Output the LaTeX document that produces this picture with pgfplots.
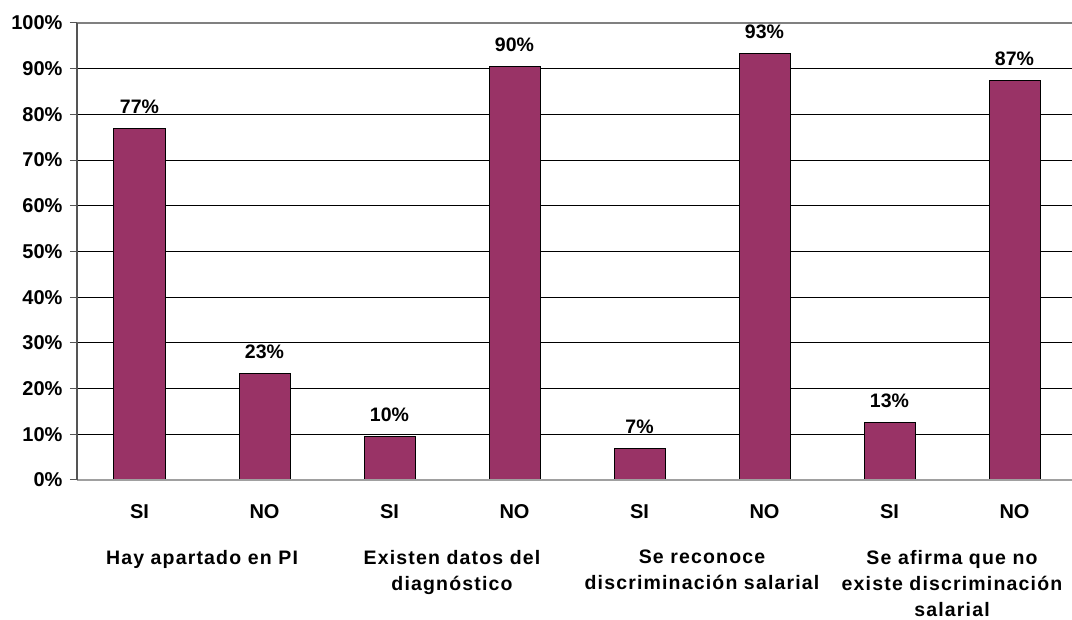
\documentclass[border=0pt]{standalone}
\usepackage{pgfplots}
\pgfplotsset{compat=1.18}
\usepackage{fontspec}
\setmainfont{Liberation Sans}
\newfontfamily\grpfont{Liberation Sans}[LetterSpace=6,Ligatures=NoCommon]
\definecolor{barplum}{HTML}{993366}
\definecolor{leftax}{HTML}{555555}
\definecolor{botax}{HTML}{A0A0A0}
\begin{document}
\begin{tikzpicture}
\begin{axis}[
  at={(77pt,140pt)}, anchor=south west,
  width=995pt, height=457pt, scale only axis,
  xmin=-0.5, xmax=7.46, ymin=0, ymax=100,
  axis line style={draw=none},
  ytick={0,10,...,100},
  yticklabels={0\%,10\%,20\%,30\%,40\%,50\%,60\%,70\%,80\%,90\%,100\%},
  ymajorgrids, major grid style={black, line width=0.9pt},
  xtick={0,...,7},
  xticklabels={SI,NO,SI,NO,SI,NO,SI,NO},
  tick label style={font=\bfseries\fontsize{20}{22}\selectfont},
  x tick style={draw=none},
  y tick style={leftax, line width=1pt},
  tick align=outside, major tick length=7pt,
  xticklabel style={yshift=-14pt},
  yticklabel style={xshift=-4pt},
  clip=false,
]
\addplot[ybar, bar width=51pt, fill=barplum, draw=black, line width=1pt,
  nodes near coords, point meta=explicit symbolic,
  nodes near coords style={font=\bfseries\fontsize{19.5}{22}\selectfont, anchor=base, yshift=15pt, black}]
  coordinates {(0,76.9)[77\%] (1,23.3)[23\%] (2,9.6)[10\%] (3,90.4)[90\%]
               (4,6.8)[7\%] (5,93.3)[93\%] (6,12.6)[13\%] (7,87.4)[87\%]};
\draw[botax, line width=1.2pt] (rel axis cs:0,0) -- (rel axis cs:1,0);
\draw[gray, line width=1.2pt] (rel axis cs:0,1) -- (rel axis cs:1,1);
\draw[leftax, line width=1.4pt] (rel axis cs:0,0) -- (rel axis cs:0,1);
\begin{scope}[every node/.style={font=\grpfont\bfseries\fontsize{19.5}{26}\selectfont, align=center, anchor=north, inner sep=0pt, yshift=-70pt}]
\node at (axis cs:0.5,0) {Hay apartado en PI};
\node at (axis cs:2.5,0) {Existen datos del\\diagnóstico};
\node at (axis cs:4.5,0) {Se reconoce\\discriminación salarial};
\node at (axis cs:6.5,0) {Se afirma que no\\existe discriminación\\salarial};
\end{scope}
\end{axis}
\pgfresetboundingbox
\useasboundingbox (0,0) rectangle (1072pt,620pt);
\end{tikzpicture}
\end{document}
